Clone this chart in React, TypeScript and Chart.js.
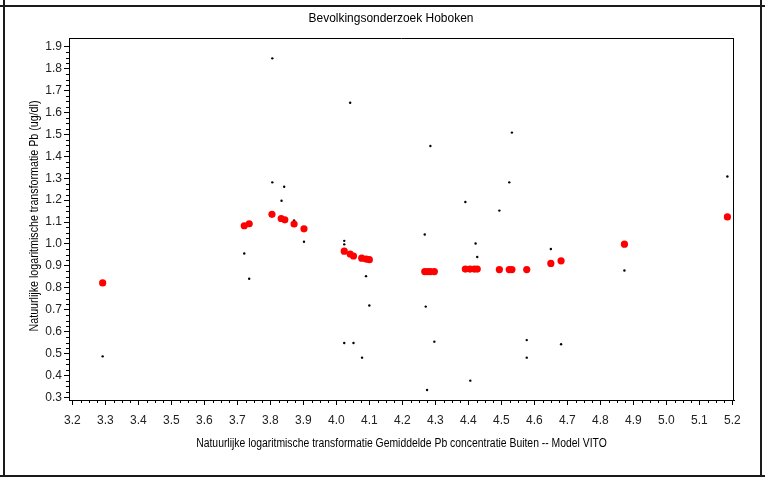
import React, { useEffect, useRef } from 'react';
import { Chart, registerables } from 'chart.js';

Chart.register(...registerables);

const chartTitle = 'Bevolkingsonderzoek Hoboken';
const xAxisTitle = 'Natuurlijke logaritmische transformatie Gemiddelde Pb concentratie Buiten -- Model VITO';
const yAxisTitle = 'Natuurlijke logaritmische transformatie Pb (ug/dl)';

const xTickValues = [3.2, 3.3, 3.4, 3.5, 3.6, 3.7, 3.8, 3.9, 4.0, 4.1, 4.2, 4.3, 4.4, 4.5, 4.6, 4.7, 4.8, 4.9, 5.0, 5.1, 5.2];
const yTickValues = [0.3, 0.4, 0.5, 0.6, 0.7, 0.8, 0.9, 1.0, 1.1, 1.2, 1.3, 1.4, 1.5, 1.6, 1.7, 1.8, 1.9];

// observed values (small black dots)
const obsX = [3.292, 3.721, 3.736, 3.806, 3.806, 3.834, 3.842, 3.872, 3.902, 4.024, 4.024, 4.024, 4.042, 4.052, 4.078, 4.090, 4.100, 4.268, 4.271, 4.275, 4.285, 4.297, 4.391, 4.406, 4.422, 4.427, 4.494, 4.524, 4.532, 4.577, 4.577, 4.650, 4.681, 4.873, 5.185];
const obsY = [0.487, 0.956, 0.841, 1.847, 1.281, 1.197, 1.261, 1.107, 1.010, 1.014, 0.998, 0.548, 1.644, 0.548, 0.481, 0.853, 0.719, 1.043, 0.714, 0.333, 1.447, 0.554, 1.191, 0.376, 1.002, 0.940, 1.152, 1.281, 1.508, 0.561, 0.481, 0.977, 0.542, 0.879, 1.308];

// predicted values (red dots)
const predX = [3.292, 3.721, 3.736, 3.805, 3.833, 3.844, 3.872, 3.902, 4.024, 4.042, 4.052, 4.077, 4.090, 4.100, 4.268, 4.277, 4.285, 4.297, 4.391, 4.405, 4.418, 4.427, 4.494, 4.524, 4.532, 4.577, 4.650, 4.681, 4.873, 5.185];
const predY = [0.822, 1.083, 1.092, 1.135, 1.116, 1.110, 1.091, 1.069, 0.967, 0.954, 0.945, 0.935, 0.931, 0.928, 0.874, 0.874, 0.874, 0.874, 0.885, 0.885, 0.885, 0.885, 0.883, 0.883, 0.883, 0.883, 0.911, 0.923, 0.999, 1.123];

const X_MIN = 3.19;
const X_MAX = 5.205;
const Y_MIN = 0.2877;
const Y_MAX = 1.9398;

const REGULAR = '"Liberation Sans", Arial, sans-serif';

function narrowText(ctx: any, text: string, x: number, y: number, sx: number) {
  ctx.save();
  ctx.translate(x, y);
  ctx.scale(sx, 1);
  ctx.fillText(text, 0, 0);
  ctx.restore();
}

const decorPlugin = {
  id: 'decor',
  afterDraw(chart: any) {
    const { ctx, chartArea: a, scales } = chart;
    ctx.save();
    // outer frame lines
    ctx.strokeStyle = '#1a1a1a';
    ctx.lineWidth = 2;
    ctx.beginPath();
    ctx.moveTo(0, 6); ctx.lineTo(765, 6);
    ctx.moveTo(0, 476); ctx.lineTo(765, 476);
    ctx.moveTo(4, 0); ctx.lineTo(4, 477);
    ctx.moveTo(761, 0); ctx.lineTo(761, 477);
    ctx.stroke();

    // plot box top & right
    ctx.strokeStyle = '#000';
    ctx.lineWidth = 1;
    ctx.beginPath();
    ctx.moveTo(a.left, a.top + 0.5); ctx.lineTo(a.right, a.top + 0.5);
    ctx.moveTo(a.right - 0.5, a.top); ctx.lineTo(a.right - 0.5, a.bottom);
    ctx.stroke();

    // minor ticks
    const xs = scales.x, ys = scales.y;
    ctx.beginPath();
    for (let i = 0; i < xTickValues.length - 1; i++) {
      for (let k = 1; k < 4; k++) {
        const v = xTickValues[i] + (xTickValues[i + 1] - xTickValues[i]) * k / 4;
        const px = Math.round(xs.getPixelForValue(v)) + 0.5;
        ctx.moveTo(px, a.bottom);
        ctx.lineTo(px, a.bottom + 3);
      }
    }
    for (let i = 0; i < yTickValues.length - 1; i++) {
      for (let k = 1; k < 4; k++) {
        const v = yTickValues[i] + (yTickValues[i + 1] - yTickValues[i]) * k / 4;
        const py = Math.round(ys.getPixelForValue(v)) + 0.5;
        ctx.moveTo(a.left, py);
        ctx.lineTo(a.left - 3, py);
      }
    }
    ctx.stroke();

    // titles
    ctx.fillStyle = '#000';
    ctx.textAlign = 'center';
    ctx.textBaseline = 'middle';
    ctx.font = '13px ' + REGULAR;
    narrowText(ctx, chartTitle, 391, 18, 0.92);
    ctx.font = '12px ' + REGULAR;
    narrowText(ctx, xAxisTitle, (a.left + a.right) / 2, 444, 0.865);
    ctx.save();
    ctx.translate(35, (a.top + a.bottom) / 2 - 3);
    ctx.rotate(-Math.PI / 2);
    narrowText(ctx, yAxisTitle, 0, 0, 0.89);
    ctx.restore();
    ctx.restore();
  },
};

export default function App() {
  const ref = useRef<HTMLCanvasElement | null>(null);
  useEffect(() => {
    if (!ref.current) return;
    const chart = new Chart(ref.current, {
      type: 'scatter',
      data: {
        datasets: [
          {
            label: 'Voorspeld',
            data: predX.map((x, i) => ({ x, y: predY[i] })),
            backgroundColor: '#ff0000',
            borderColor: '#ff0000',
            pointRadius: 3.6,
            pointBorderWidth: 0,
          },
          {
            label: 'Geobserveerd',
            data: obsX.map((x, i) => ({ x, y: obsY[i] })),
            backgroundColor: '#000',
            borderColor: '#000',
            pointRadius: 1.2,
            pointBorderWidth: 0,
          },
        ],
      },
      options: {
        responsive: false,
        animation: false,
        devicePixelRatio: 1,
        layout: { padding: { left: 0, top: 38, right: 31, bottom: 0 } },
        plugins: { legend: { display: false }, tooltip: { enabled: false }, title: { display: false } },
        scales: {
          x: {
            type: 'linear',
            min: X_MIN,
            max: X_MAX,
            afterBuildTicks: (s: any) => { s.ticks = xTickValues.map((v) => ({ value: v })); },
            afterFit: (s: any) => { s.height = 77; },
            grid: { display: true, drawOnChartArea: false, drawTicks: true, tickLength: 5, color: '#000' },
            border: { display: true, color: '#000', width: 1 },
            ticks: {
              padding: 8,
              maxRotation: 0,
              autoSkip: false,
              color: '#222',
              font: { family: REGULAR, size: 12 },
              callback: (v: any) => Number(v).toFixed(1),
            },
          },
          y: {
            type: 'linear',
            min: Y_MIN,
            max: Y_MAX,
            afterBuildTicks: (s: any) => { s.ticks = yTickValues.map((v) => ({ value: v })); },
            afterFit: (s: any) => { s.width = 69; },
            grid: { display: true, drawOnChartArea: false, drawTicks: true, tickLength: 5, color: '#000' },
            border: { display: true, color: '#000', width: 1 },
            ticks: {
              padding: 2,
              autoSkip: false,
              color: '#222',
              font: { family: REGULAR, size: 12 },
              callback: (v: any) => Number(v).toFixed(1),
            },
          },
        },
      },
      plugins: [decorPlugin],
    });
    return () => chart.destroy();
  }, []);
  return (
    <div style={{ position: 'fixed', left: 0, top: 0, width: 765, height: 477, background: '#fff' }}>
      <canvas ref={ref} width={765} height={477} style={{ display: 'block' }} />
    </div>
  );
}
